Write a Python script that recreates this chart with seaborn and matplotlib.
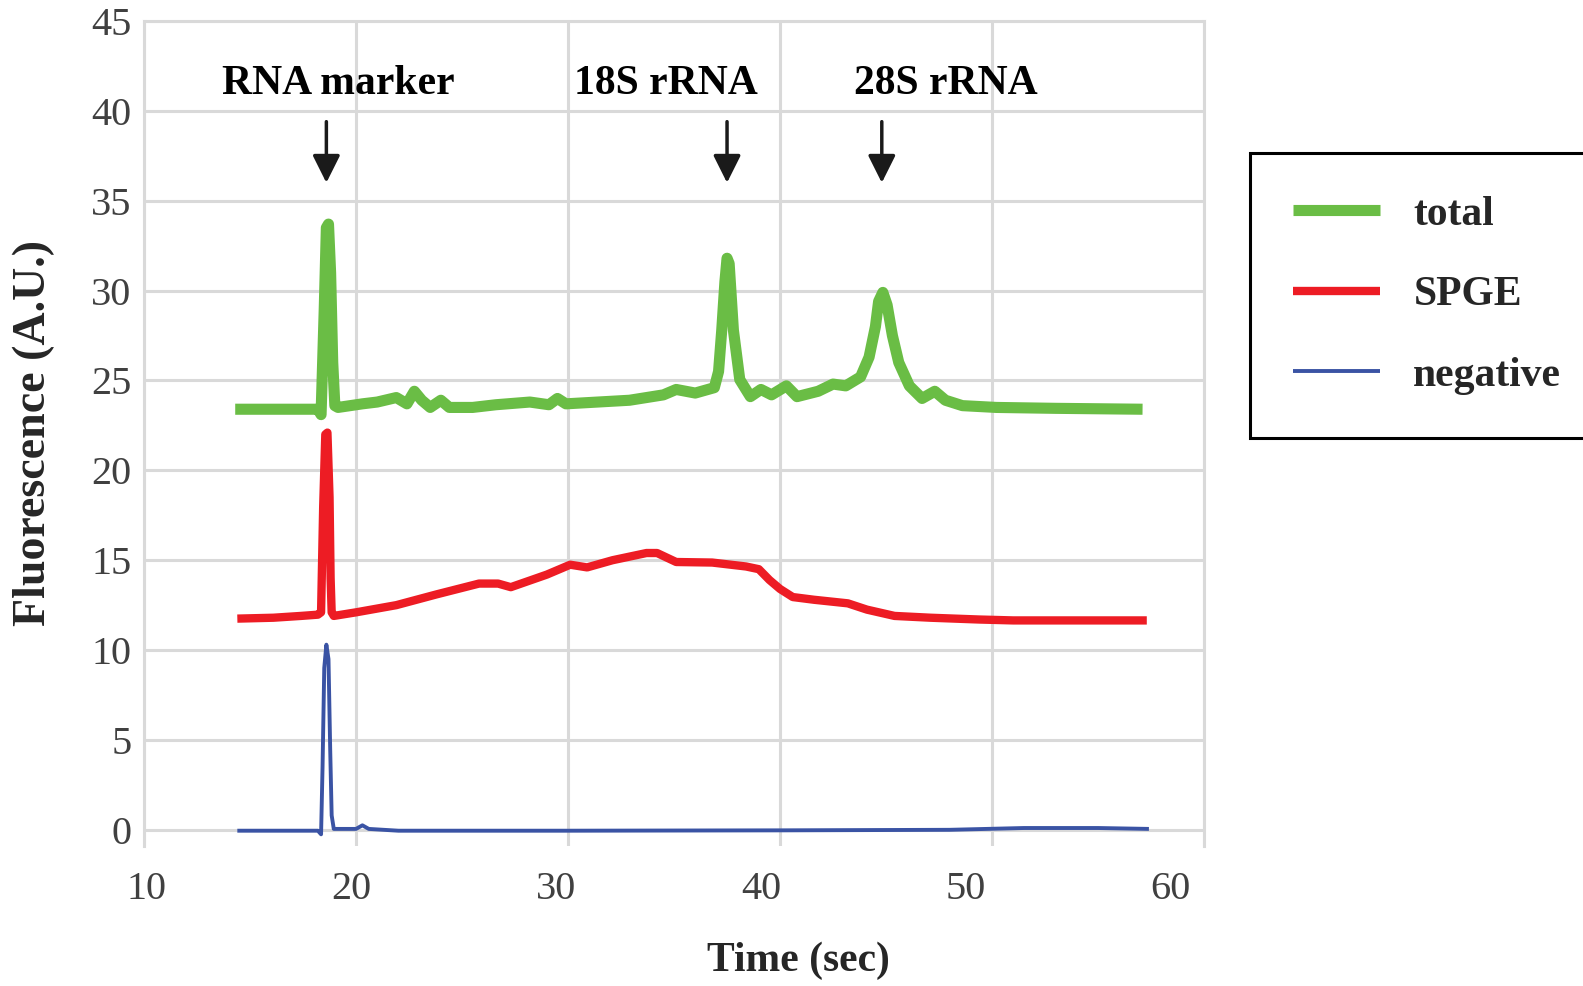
import numpy as np
import pandas as pd
import matplotlib
matplotlib.use('Agg')
import matplotlib.pyplot as plt
import seaborn as sns

# electropherogram traces (time in sec, fluorescence in A.U.)
total_t = [14.3, 15.5, 17.0, 18.2, 18.35, 18.5, 18.6, 18.7, 18.8, 18.9, 19.0, 19.15,
           20.3, 21.0, 21.9, 22.4, 22.75, 23.1, 23.5, 24.0, 24.4, 25.5, 26.6, 28.2,
           29.1, 29.5, 29.9, 31.4, 32.9, 34.5, 35.1, 36.0, 36.6, 36.9, 37.1, 37.25,
           37.4, 37.5, 37.6, 37.8, 38.1, 38.6, 39.1, 39.6, 40.3, 40.8, 41.8, 42.5,
           43.1, 43.8, 44.2, 44.5, 44.65, 44.85, 45.05, 45.3, 45.6, 46.1, 46.7, 47.3,
           47.8, 48.6, 50.2, 53.0, 57.1]
total_v = [23.4, 23.4, 23.4, 23.4, 23.1, 29.0, 33.5, 33.7, 31.0, 26.0, 23.6, 23.5,
           23.7, 23.8, 24.05, 23.7, 24.4, 23.9, 23.5, 23.9, 23.5, 23.5, 23.65, 23.8,
           23.65, 24.0, 23.7, 23.8, 23.9, 24.2, 24.5, 24.3, 24.5, 24.6, 25.5, 27.8,
           30.5, 31.8, 31.5, 27.8, 25.05, 24.1, 24.5, 24.2, 24.7, 24.1, 24.4, 24.8,
           24.7, 25.2, 26.3, 28.0, 29.4, 29.9, 29.2, 27.5, 26.0, 24.7, 24.0, 24.4,
           23.9, 23.6, 23.5, 23.45, 23.4]

spge_t = [14.4, 16.1, 17.4, 18.2, 18.35, 18.45, 18.55, 18.65, 18.75, 18.8, 18.85,
          18.95, 20.0, 21.9, 23.8, 25.8, 26.7, 27.3, 29.0, 30.1, 30.9, 32.1, 33.7,
          34.2, 35.1, 36.8, 38.4, 39.0, 39.5, 40.0, 40.6, 41.6, 43.2, 44.1, 45.4,
          47.1, 49.4, 51.0, 57.3]
spge_v = [11.75, 11.8, 11.9, 11.97, 12.1, 18.0, 22.0, 22.1, 18.5, 14.0, 12.1,
          11.9, 12.1, 12.5, 13.1, 13.7, 13.7, 13.5, 14.2, 14.75, 14.6, 15.0, 15.4,
          15.4, 14.9, 14.87, 14.65, 14.5, 13.9, 13.4, 12.95, 12.8, 12.6, 12.25, 11.9,
          11.8, 11.7, 11.65, 11.65]

neg_t = [14.4, 17.5, 18.2, 18.35, 18.42, 18.5, 18.6, 18.7, 18.78, 18.85, 18.95,
         20.0, 20.3, 20.6, 22.0, 30.0, 40.0, 48.0, 51.5, 55.0, 57.4]
neg_v = [-0.05, -0.05, -0.05, -0.25, 3.5, 9.0, 10.3, 9.5, 4.5, 0.8, 0.05,
         0.05, 0.25, 0.05, -0.05, -0.05, -0.03, 0.0, 0.1, 0.1, 0.05]

peak_names = ['RNA marker', '18S rRNA', '28S rRNA']
peak_pos = [18.6, 37.5, 44.8]
label_pos = [19.15, 34.6, 47.8]

sns.set_theme(style='white')
plt.rcParams['font.family'] = ['Liberation Serif', 'DejaVu Serif']

fig = plt.figure(figsize=(15.83, 9.86), dpi=100)
ax = fig.add_axes([0.091, 0.142, 0.6696, 0.8367])

grid_c = '#d9d9d9'
line_kw = dict(estimator=None, sort=False, solid_capstyle='butt', solid_joinstyle='round')
sns.lineplot(x=total_t, y=total_v, ax=ax, color='#6abd45', linewidth=8,
             label='total', **line_kw)
sns.lineplot(x=spge_t, y=spge_v, ax=ax, color='#ed1c24', linewidth=6,
             label='SPGE', **line_kw)
sns.lineplot(x=neg_t, y=neg_v, ax=ax, color='#3a53a4', linewidth=2.8,
             label='negative', **line_kw)

ax.set_xlim(10, 60)
ax.set_ylim(-0.9, 45)
ax.set_xticks(np.arange(10, 61, 10))
ax.set_yticks(np.arange(0, 46, 5))
ax.grid(True, color=grid_c, linewidth=2.2)
ax.set_axisbelow(True)
for side in ['left', 'right', 'top']:
    ax.spines[side].set_color(grid_c)
    ax.spines[side].set_linewidth(2.2)
ax.spines['bottom'].set_visible(False)
ax.tick_params(axis='both', length=0, labelsize=29, labelcolor='#404040')
ax.tick_params(axis='x', labelbottom=False)
ax.tick_params(axis='y', pad=9)

# the x labels in the original sit on a slightly compressed scale
sec = ax.secondary_xaxis('bottom',
                         functions=(lambda x: 10 + (x - 10.095) / 0.9667,
                                    lambda v: 10.095 + (v - 10) * 0.9667))
sec.set_xticks(np.arange(10, 61, 10))
sec.tick_params(length=0, labelsize=29, labelcolor='#404040', pad=18)
sec.spines['bottom'].set_visible(False)

ax.set_xlabel('Time (sec)', fontsize=30, fontweight='bold')
ax.xaxis.set_label_coords(0.617, -0.116)
ax.set_ylabel('Fluorescence (A.U.)', fontsize=33, fontweight='bold', labelpad=26)

# peak labels with arrows
for name, xp, xl in zip(peak_names, peak_pos, label_pos):
    ax.text(xl, 41.5, name, ha='center', va='center', fontsize=30,
            fontweight='bold', color='black')
    ax.annotate('', xy=(xp, 36.0), xytext=(xp, 39.4),
                arrowprops=dict(arrowstyle='-|>', color='#1a1a1a', lw=2.5,
                                mutation_scale=42, shrinkA=0, shrinkB=0))

ax.get_legend().remove()
handles, labels = ax.get_legend_handles_labels()
leg = fig.legend(handles, labels, loc='upper left',
                 bbox_to_anchor=(1250 / 1583, 1 - 153 / 986),
                 borderaxespad=0, frameon=True, fancybox=False,
                 handlelength=2.1, handletextpad=0.8, borderpad=1.02,
                 labelspacing=1.02, prop={'weight': 'bold', 'size': 30})
leg.get_frame().set_edgecolor('black')
leg.get_frame().set_linewidth(2.2)
leg.get_frame().set_alpha(1)

fig.savefig('out.png', dpi=100)
